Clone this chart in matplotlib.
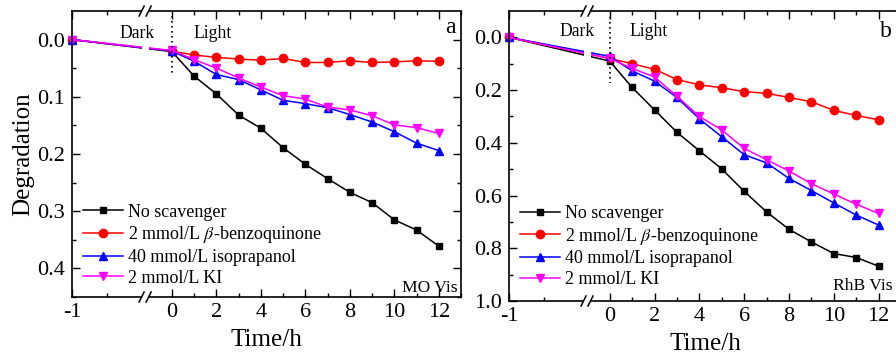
import numpy as np
import matplotlib
matplotlib.use("Agg")
import matplotlib.pyplot as plt
from matplotlib.ticker import FixedLocator, FixedFormatter
from matplotlib.patches import Rectangle

plt.rcParams['font.family'] = ['Liberation Serif', 'DejaVu Serif']
plt.rcParams['mathtext.fontset'] = 'stix'
plt.rcParams['axes.unicode_minus'] = False

# ---------------- data ----------------
time = [-1, 0, 1, 2, 3, 4, 5, 6, 7, 8, 9, 10, 11, 12]
labels = ["No scavenger", "2 mmol/L $\\beta$-benzoquinone",
          "40 mmol/L isoprapanol", "2 mmol/L KI"]

mo_none = [0.0, 0.021, 0.064, 0.095, 0.132, 0.155, 0.189, 0.218, 0.243, 0.267, 0.285, 0.315, 0.333, 0.361]
mo_bq   = [0.0, 0.020, 0.027, 0.031, 0.034, 0.036, 0.033, 0.040, 0.040, 0.037, 0.040, 0.039, 0.037, 0.038]
mo_ipa  = [0.0, 0.020, 0.038, 0.061, 0.070, 0.088, 0.106, 0.112, 0.119, 0.131, 0.144, 0.161, 0.181, 0.194]
mo_ki   = [0.0, 0.019, 0.035, 0.050, 0.067, 0.083, 0.098, 0.104, 0.118, 0.123, 0.133, 0.149, 0.154, 0.164]

rhb_none = [0.0, 0.090, 0.190, 0.275, 0.360, 0.430, 0.499, 0.584, 0.662, 0.728, 0.776, 0.820, 0.835, 0.868]
rhb_bq   = [0.0, 0.080, 0.100, 0.121, 0.160, 0.180, 0.191, 0.206, 0.212, 0.228, 0.244, 0.277, 0.296, 0.313]
rhb_ipa  = [0.0, 0.072, 0.127, 0.166, 0.228, 0.309, 0.377, 0.445, 0.476, 0.535, 0.581, 0.628, 0.674, 0.712]
rhb_ki   = [0.0, 0.080, 0.118, 0.150, 0.223, 0.300, 0.351, 0.421, 0.464, 0.507, 0.555, 0.594, 0.633, 0.668]

xticks = [-1, 0, 2, 4, 6, 8, 10, 12]
xtick_labels = ["-1", "0", "2", "4", "6", "8", "10", "12"]
xminor = [-0.65, 1, 3, 5, 7, 9, 11, 13]

mo_yticks = [0.0, 0.1, 0.2, 0.3, 0.4]
rhb_yticks = [0.0, 0.2, 0.4, 0.6, 0.8, 1.0]

colors = ['black', 'red', 'blue', 'magenta']
markers = ['s', 'o', '^', 'v']
msizes = [5, 6, 6, 6]

# ---------------- figure ----------------
W, H = 896, 356
fig = plt.figure(figsize=(W / 100, H / 100), dpi=100)

K = 4.494  # stretch of the pre-zero (dark) segment


def fwd(x):
    x = np.asarray(x, dtype=float)
    return np.where(x < 0, x * K, x)


def inv(t):
    t = np.asarray(t, dtype=float)
    return np.where(t < 0, t / K, t)


def px_rect(l, t, r, b):
    return [l / W, 1 - b / H, (r - l) / W, (b - t) / H]


panels = [
    dict(rect=px_rect(72, 11, 461, 297), series=[mo_none, mo_bq, mo_ipa, mo_ki],
         ylim=(0.45, -0.05), yticks=mo_yticks, yminor=[0.05, 0.15, 0.25, 0.35, 0.45],
         ytl=["0.0", "0.1", "0.2", "0.3", "0.4"],
         dark=(0.167, 0.923), light=(0.3625, 0.923), dots=(-0.042, 0.063),
         letter="a", letter_pos=(0.972, 0.923), tag="MO Vis", tag_pos=(0.92, 0.018),
         brk=0.188, leg=(0.028, 0.326), ylabel=True, right=True),
    dict(rect=px_rect(509, 11, 901, 301), series=[rhb_none, rhb_bq, rhb_ipa, rhb_ki],
         ylim=(1.0, -0.1), yticks=rhb_yticks, yminor=[0.1, 0.3, 0.5, 0.7, 0.9],
         ytl=["0.0", "0.2", "0.4", "0.6", "0.8", "1.0"],
         dark=(0.173, 0.931), light=(0.357, 0.931), dots=(-0.076, 0.174),
         letter="b", letter_pos=(0.962, 0.910), tag="RhB Vis", tag_pos=(0.903, 0.038),
         brk=0.199, leg=(0.028, 0.331), ylabel=False, right=False),
]

for p in panels:
    ax = fig.add_axes(p['rect'])
    ax.set_xscale('function', functions=(fwd, inv))
    for s, c, m, ms, lab in zip(p['series'], colors, markers, msizes, labels):
        ax.plot(time, s, color=c, marker=m, markersize=ms, linewidth=1.1,
                label=lab, zorder=2, clip_on=False)
    ax.set_xlim(-1, 13)
    ax.set_ylim(*p['ylim'])

    ax.xaxis.set_major_locator(FixedLocator(xticks))
    ax.xaxis.set_major_formatter(FixedFormatter(xtick_labels))
    ax.xaxis.set_minor_locator(FixedLocator(xminor))
    ax.yaxis.set_major_locator(FixedLocator(p['yticks']))
    ax.yaxis.set_major_formatter(FixedFormatter(p['ytl']))
    ax.yaxis.set_minor_locator(FixedLocator(p['yminor']))
    ax.tick_params(which='both', direction='in', top=True, right=p['right'],
                   width=1.0, labelsize=16)
    ax.tick_params(which='major', length=5.5)
    ax.tick_params(which='minor', length=3)
    ax.tick_params(axis='x', pad=4)
    ax.tick_params(axis='y', pad=5)
    for sp in ax.spines.values():
        sp.set_linewidth(1.2)

    ax.set_xlabel("Time/h", fontsize=18, labelpad=5)
    if p['ylabel']:
        ax.set_ylabel("Degradation", fontsize=18, labelpad=2)

    # dotted separator dark / light
    ax.plot([0, 0], list(p['dots']), color='black', linestyle=(0, (1, 2)),
            linewidth=1.2, zorder=2)

    ax.text(*p['dark'], "Dark", transform=ax.transAxes, fontsize=12.7,
            ha='center', va='center', zorder=6)
    ax.text(*p['light'], "Light", transform=ax.transAxes, fontsize=12.7,
            ha='center', va='center', zorder=6)
    ax.text(*p['letter_pos'], p['letter'], transform=ax.transAxes, fontsize=17,
            ha='center', va='baseline', zorder=6)
    ax.text(*p['tag_pos'], p['tag'], transform=ax.transAxes, fontsize=12.6,
            ha='center', va='baseline', zorder=6)

    # axis break
    bw = ax.get_position().width * W
    bh = ax.get_position().height * H
    fx = 1.0 / bw
    fy = 1.0 / bh
    b = p['brk']
    ax.add_patch(Rectangle((b - 3.5 * fx, -6 * fy), 7 * fx, 1 + 12 * fy,
                           transform=ax.transAxes, facecolor='white',
                           edgecolor='none', zorder=3, clip_on=False))
    for yc in (0.0, 1.0):
        for off in (-3.5, 3.5):
            xc = b + off * fx
            ax.plot([xc - 2.5 * fx, xc + 2.5 * fx], [yc - 5 * fy, yc + 5 * fy],
                    transform=ax.transAxes, color='black', linewidth=1.1,
                    zorder=4, clip_on=False)

    ax.legend(loc='upper left', bbox_to_anchor=p['leg'], frameon=False,
              fontsize=13, handlelength=2.2, handletextpad=0.3,
              labelspacing=0.2, borderpad=0, borderaxespad=0)

fig.savefig("out.png", dpi=100)
